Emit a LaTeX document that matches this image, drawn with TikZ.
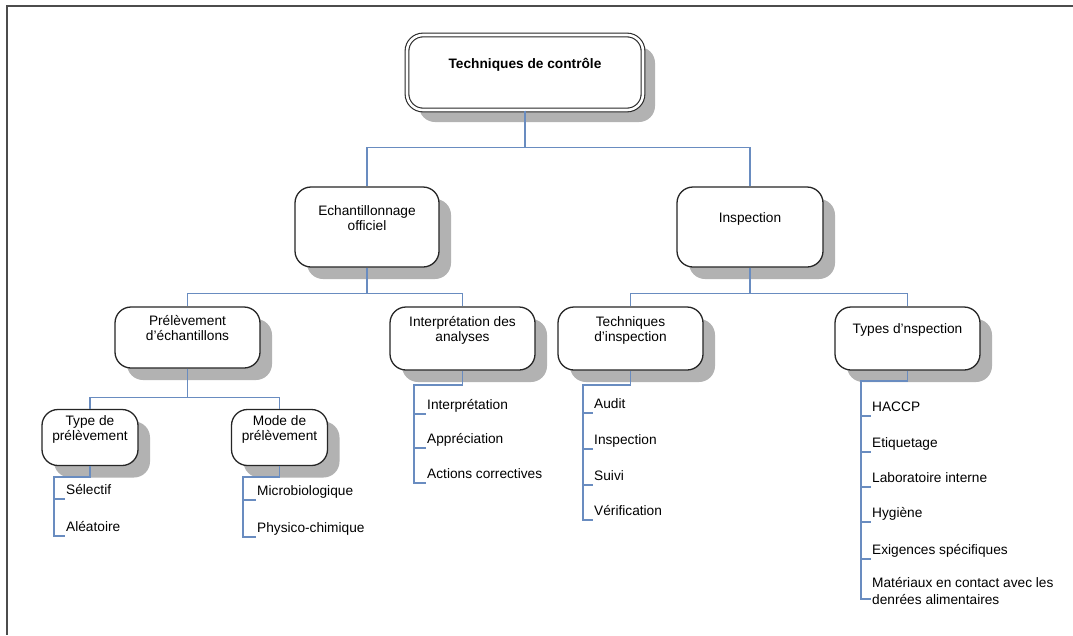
\documentclass[tikz,border=0pt]{standalone}
\usepackage{fontspec}
\setmainfont{Liberation Sans}
\usetikzlibrary{shadows}
\definecolor{connblue}{RGB}{105,140,192}
\definecolor{shadowgray}{RGB}{178,178,178}
\begin{document}
\begin{tikzpicture}[x=1pt,y=-1pt,
  box/.style={draw=black!85, line width=1.3pt, fill=white, rounded corners=16pt,
    align=center, inner sep=0pt, text=black,
    font=\fontsize{13.7}{15}\selectfont,
    drop shadow={shadow xshift=12pt, shadow yshift=-12pt, fill=shadowgray, opacity=1}},
  rootbox/.style={box, line width=1.1pt, double=white, double distance=2.6pt,
    font=\bfseries\fontsize{13.7}{15}\selectfont},
  conn/.style={draw=connblue, line width=1.2pt},
  leaf/.style={anchor=south west, inner xsep=1pt, inner ysep=1pt, text height=10pt,
    text depth=3pt, text=black, font=\fontsize{13.7}{16}\selectfont},
]
\useasboundingbox (0,0) rectangle (1073,635);
\fill[white] (0,0) rectangle (1073,635);
\draw[line width=1.6pt, black!70] (1073,6) -- (7,6) -- (7,635);

% boxes
\node[rootbox, minimum width=236pt, minimum height=75pt] (root) at (525,72.5) {Techniques de contrôle\\[4pt]\mbox{}};
\node[box, minimum width=144pt, minimum height=80pt] (eo) at (367,227) {Echantillonnage\\officiel\\[3pt]\mbox{}};
\node[box, minimum width=146pt, minimum height=80pt] (insp) at (750,227) {Inspection\\[4pt]\mbox{}};
\node[box, minimum width=145pt, minimum height=61pt] (prel) at (187.5,337.5) {Prélèvement\\d’échantillons\\[4pt]\mbox{}};
\node[box, minimum width=145pt, minimum height=63pt] (interp) at (462.5,338.5) {Interprétation des\\analyses\\[4pt]\mbox{}};
\node[box, minimum width=145pt, minimum height=63pt] (techi) at (630.5,338.5) {Techniques\\d’inspection\\[4pt]\mbox{}};
\node[box, minimum width=145pt, minimum height=63pt] (types) at (907.5,338.5) {Types d’nspection\\[4pt]\mbox{}};
\node[box, minimum width=96pt, minimum height=56pt] (typep) at (90,437.5) {Type de\\prélèvement\\[4pt]\mbox{}};
\node[box, minimum width=96pt, minimum height=56pt] (modep) at (279.5,437.5) {Mode de\\prélèvement\\[4pt]\mbox{}};

% leaves
\node[leaf] (sel) at (65,499) {Sélectif};
\node[leaf] (alea) at (65,536) {Aléatoire};
\node[leaf] (micro) at (256,500) {Microbiologique};
\node[leaf] (phys) at (256,537) {Physico-chimique};
\node[leaf] (interpl) at (426,414) {Interprétation};
\node[leaf] (apprec) at (426,448) {Appréciation};
\node[leaf] (actions) at (426,483) {Actions correctives};
\node[leaf] (audit) at (593,413) {Audit};
\node[leaf] (inspl) at (593,449) {Inspection};
\node[leaf] (suivi) at (593,485) {Suivi};
\node[leaf] (verif) at (593,520) {Vérification};
\node[leaf] (haccp) at (871,416) {HACCP};
\node[leaf] (etiq) at (871,452) {Etiquetage};
\node[leaf] (labo) at (871,487) {Laboratoire interne};
\node[leaf] (hyg) at (871,522) {Hygiène};
\node[leaf] (exig) at (871,559) {Exigences spécifiques};
\node[anchor=south west, inner xsep=1pt, inner ysep=1pt, align=left, text=black,
  font=\fontsize{13.7}{17.5}\selectfont] (mat) at (871,606) {Matériaux en contact avec les\\denrées alimentaires};
\coordinate (mattick) at ([yshift=7pt]mat.south west);

% bus coordinates
\coordinate (typepbus) at (54,477);
\coordinate (modepbus) at (243,477);
\coordinate (interpbus) at (414,385);
\coordinate (techibus) at (583,385);
\coordinate (typesbus) at (861,381);

% tree connectors
\draw[conn] (root.south) -- ++(0,37) -| (eo.north);
\draw[conn] (root.south) -- ++(0,37) -| (insp.north);
\draw[conn] (eo.south) -- ++(0,26) -| (prel.north);
\draw[conn] (eo.south) -- ++(0,26) -| (interp.north);
\draw[conn] (insp.south) -- ++(0,26) -| (techi.north);
\draw[conn] (insp.south) -- ++(0,26) -| (types.north);
\draw[conn] (prel.south) -- ++(0,29) -| (typep.north);
\draw[conn] (prel.south) -- ++(0,29) -| (modep.north);

% leaf connectors
\draw[conn] (typep.south) |- (typepbus) |- (sel.south west);
\draw[conn] (typepbus) |- (alea.south west);
\draw[conn] (modep.south) |- (modepbus) |- (micro.south west);
\draw[conn] (modepbus) |- (phys.south west);
\draw[conn] (interp.south) |- (interpbus) |- (interpl.south west);
\draw[conn] (interpbus) |- (apprec.south west);
\draw[conn] (interpbus) |- (actions.south west);
\draw[conn] (techi.south) |- (techibus) |- (audit.south west);
\draw[conn] (techibus) |- (inspl.south west);
\draw[conn] (techibus) |- (suivi.south west);
\draw[conn] (techibus) |- (verif.south west);
\draw[conn] (types.south) |- (typesbus) |- (haccp.south west);
\draw[conn] (typesbus) |- (etiq.south west);
\draw[conn] (typesbus) |- (labo.south west);
\draw[conn] (typesbus) |- (hyg.south west);
\draw[conn] (typesbus) |- (exig.south west);
\draw[conn] (typesbus) |- (mattick);
\end{tikzpicture}
\end{document}
